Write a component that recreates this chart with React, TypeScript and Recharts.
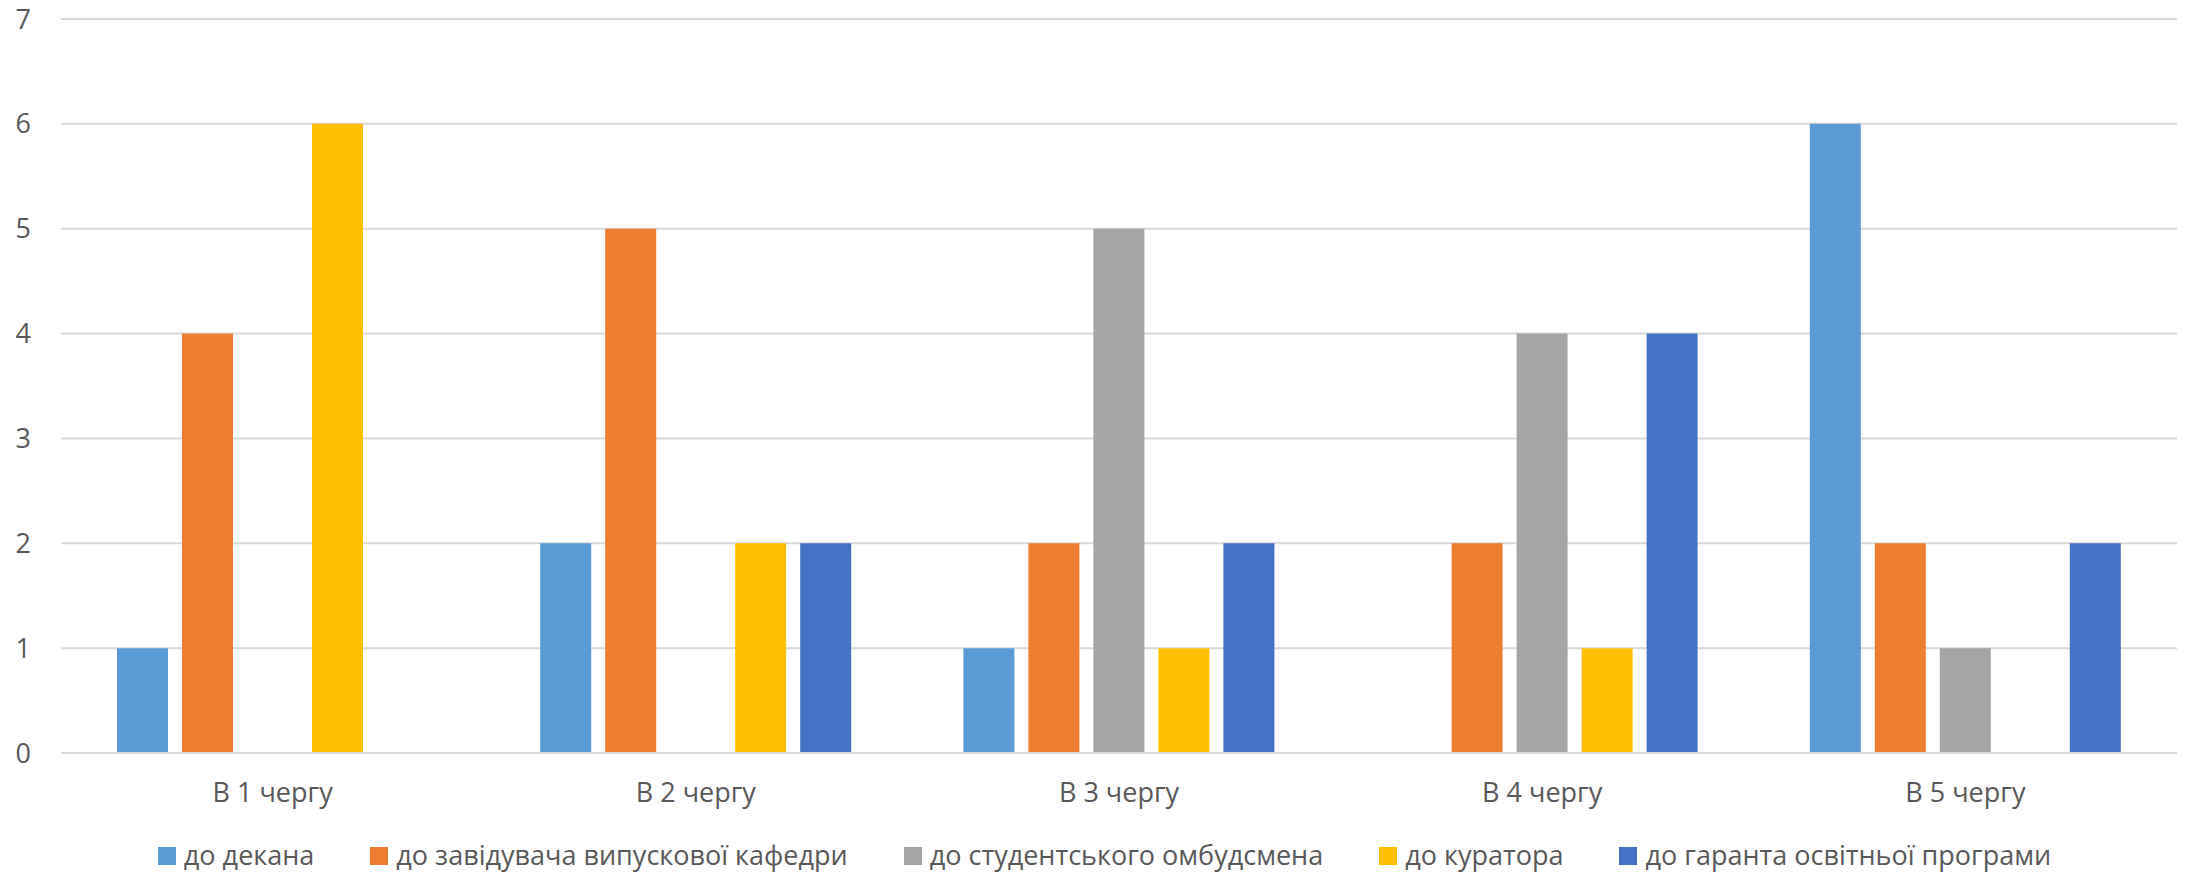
import React from "react";
import { BarChart, Bar, XAxis, YAxis, CartesianGrid, Legend } from "recharts";

const categories = ["В 1 чергу", "В 2 чергу", "В 3 чергу", "В 4 чергу", "В 5 чергу"];
const dean = [1, 2, 1, 0, 6];
const headOfDept = [4, 5, 2, 2, 2];
const ombudsman = [0, 0, 5, 4, 1];
const curator = [6, 2, 1, 1, 0];
const guarantor = [0, 2, 2, 4, 2];
const yTicks = [0, 1, 2, 3, 4, 5, 6, 7];

const seriesNames = [
  "до декана",
  "до завідувача випускової кафедри",
  "до студентського омбудсмена",
  "до куратора",
  "до гаранта освітньої програми",
];
const seriesColors = ["#5B9BD5", "#ED7D31", "#A5A5A5", "#FFC000", "#4472C4"];
const seriesKeys = ["s0", "s1", "s2", "s3", "s4"];
const seriesValues = [dean, headOfDept, ombudsman, curator, guarantor];

const data = categories.map((c, i) => {
  const row: Record<string, any> = { name: c };
  seriesKeys.forEach((k, j) => {
    row[k] = seriesValues[j][i];
  });
  return row;
});

const FONT = "'Open Sans', sans-serif";
const TEXT = "#595959";
const FS = 27;

const LegendContent = () => (
  <div
    style={{
      height: 40,
      display: "flex",
      justifyContent: "center",
      alignItems: "center",
      paddingTop: 2,
      paddingLeft: 32,
      boxSizing: "border-box",
      fontFamily: FONT,
      fontSize: FS,
      color: TEXT,
    }}
  >
    {seriesNames.map((n, i) => (
      <div key={n} style={{ display: "flex", alignItems: "center", marginLeft: i === 0 ? 0 : 56 }}>
        <div style={{ width: 18, height: 18, background: seriesColors[i], marginRight: 8, marginTop: 2 }} />
        <span style={{ whiteSpace: "nowrap", lineHeight: "36px" }}>{n}</span>
      </div>
    ))}
  </div>
);

export default function App() {
  return (
    <div style={{ position: "absolute", left: 0, top: 0, width: 2185, height: 874, background: "#fff" }}>
      <BarChart
        width={2185}
        height={874}
        data={data}
        margin={{ top: 19, right: 8, left: 0, bottom: 0 }}
        barGap={14}
        barSize={51}
      >
        <CartesianGrid vertical={false} stroke="#D9D9D9" strokeWidth={2} />
        <XAxis
          dataKey="name"
          height={81}
          axisLine={{ stroke: "#D9D9D9", strokeWidth: 2 }}
          tickLine={false}
          tickSize={0}
          tickMargin={30}
          tick={{ fill: TEXT, fontSize: FS, fontFamily: FONT }}
          interval={0}
        />
        <YAxis
          width={61}
          domain={[0, 7]}
          ticks={yTicks}
          axisLine={false}
          tickLine={false}
          tickSize={0}
          tickMargin={30}
          tick={{ fill: TEXT, fontSize: FS, fontFamily: FONT }}
          interval={0}
        />
        <Legend verticalAlign="bottom" height={40} content={() => <LegendContent />} />
        {seriesKeys.map((k, i) => (
          <Bar key={k} dataKey={k} name={seriesNames[i]} fill={seriesColors[i]} isAnimationActive={false} />
        ))}
      </BarChart>
    </div>
  );
}
